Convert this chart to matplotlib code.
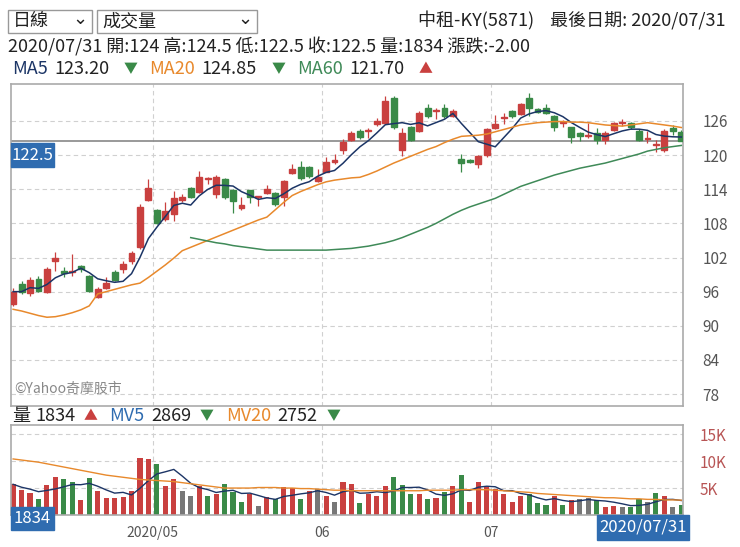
import matplotlib
matplotlib.use("Agg")
import matplotlib.pyplot as plt
from matplotlib.patches import Rectangle
import numpy as np
import pandas as pd

plt.rcParams['font.family'] = ['Noto Sans CJK TC', 'DejaVu Sans']

dates = [d for d in pd.bdate_range("2020-04-08", "2020-07-31")
         if d not in (pd.Timestamp("2020-05-01"), pd.Timestamp("2020-06-25"), pd.Timestamp("2020-06-26"))]

opens = [93.9,97.3,95.8,98.3,96.0,101.3,99.6,99.5,100.5,98.8,95.1,96.7,99.5,99.9,101.3,103.9,112.1,110.3,108.7,109.6,
         112.1,114.2,113.6,115.8,113.2,115.8,113.8,110.7,113.8,112.6,113.4,113.4,112.6,116.9,117.9,117.9,115.4,117.1,118.8,120.9,
         122.6,124.3,124.2,125.4,125.7,130.0,120.9,124.9,124.3,128.3,127.8,128.3,126.9,119.4,119.2,118.4,120.0,124.8,126.6,127.8,
         127.2,130.0,128.1,128.3,126.8,125.6,124.9,123.9,123.3,123.9,122.7,124.4,125.7,125.6,124.3,122.9,121.7,120.9,124.8,124.0]
closes = [96.0,96.0,98.1,96.2,100.0,101.9,99.3,99.5,99.9,96.1,96.5,97.6,98.1,100.8,102.8,110.8,114.2,108.1,110.2,112.5,
          112.7,112.6,116.2,115.8,116.2,112.6,112.0,111.3,112.6,112.6,114.0,111.4,115.4,117.5,116.0,116.3,116.2,118.8,119.2,122.3,
          123.9,123.1,124.2,126.0,129.5,124.9,123.9,122.7,127.4,126.8,127.8,126.8,127.8,118.6,118.8,119.8,124.6,125.5,126.6,126.8,
          129.0,128.3,127.6,127.4,124.9,125.6,123.1,123.3,123.3,122.7,123.9,125.6,125.7,124.9,122.7,122.9,121.9,124.3,124.3,122.5]
highs = [96.6,97.9,98.5,98.8,100.3,103.0,100.4,102.7,100.7,99.0,96.8,98.5,99.8,101.4,103.1,111.4,115.8,110.5,111.7,113.7,
         113.2,114.4,117.2,116.2,116.5,116.0,114.0,112.6,113.9,112.9,114.8,113.6,115.6,118.5,119.0,118.1,117.5,119.6,120.2,122.9,
         124.3,124.6,124.8,126.6,130.4,130.4,124.8,125.1,127.8,129.0,128.3,129.0,128.1,120.2,119.4,120.0,124.8,127.0,127.4,128.0,
         129.2,131.0,128.3,129.0,127.0,126.2,125.0,124.0,125.6,124.8,124.2,125.8,126.3,125.8,124.6,124.2,122.7,124.6,125.3,124.5]
lows = [93.5,95.6,95.2,96.0,95.8,99.7,98.5,98.8,99.4,95.9,94.9,96.5,97.8,99.3,100.9,103.5,112.0,107.9,108.4,108.5,
        111.7,112.4,113.4,114.9,112.5,112.3,109.8,110.4,111.5,111.0,113.2,111.1,111.0,116.6,115.7,116.0,115.2,117.0,118.5,120.2,
        122.4,122.9,123.0,125.2,125.5,124.6,119.9,122.5,124.1,126.6,126.3,126.6,126.7,117.0,118.6,117.7,119.7,124.6,125.4,126.6,
        127.0,126.9,127.4,127.2,124.2,124.9,122.2,122.4,123.0,122.0,122.0,124.2,125.2,124.6,122.5,122.2,120.5,120.6,123.5,122.5]

ma20 = [92.9,92.6,92.2,91.8,91.5,91.6,91.9,92.3,92.8,93.5,95.6,96.0,96.4,96.8,97.2,97.5,98.5,99.6,100.7,101.9,
        103.2,103.8,104.4,105.0,105.6,106.2,106.8,107.4,108.0,108.6,109.1,110.4,111.7,112.9,113.6,114.2,114.8,115.3,115.6,115.8,
        116.0,116.1,116.6,117.2,117.9,118.6,119.2,119.8,120.4,121.0,121.5,122.2,122.8,123.3,123.4,123.5,123.7,124.1,124.5,124.9,
        125.3,125.5,125.7,125.8,125.9,125.9,125.8,125.8,125.7,125.5,125.3,125.2,125.1,125.3,125.5,125.7,125.5,125.3,125.1,124.85]
ma60 = [np.nan]*21 + [105.5,105.2,104.9,104.6,104.4,104.1,103.9,103.7,103.5,103.3,103.3,103.3,103.3,103.3,103.3,103.3,103.3,103.4,103.5,
        103.6,103.8,104.0,104.3,104.6,105.0,105.5,106.1,106.7,107.3,108.0,108.8,109.6,110.3,110.9,111.4,111.9,112.4,113.1,113.8,
        114.5,115.0,115.5,116.0,116.5,116.9,117.3,117.7,118.0,118.3,118.6,119.0,119.4,119.8,120.2,120.7,121.0,121.3,121.5,121.7]

volume = [5.7,4.6,4.1,2.9,5.5,7.1,6.6,6.2,2.7,6.8,4.4,3.2,3.2,3.4,4.4,10.6,10.3,9.4,5.4,6.6,
          4.4,3.6,5.4,3.6,3.9,5.7,4.3,2.5,3.9,1.7,3.4,3.0,5.2,5.0,3.0,4.4,4.9,3.6,2.5,6.2,
          5.7,2.2,3.9,3.6,5.4,7.1,5.5,3.9,3.9,2.9,3.2,4.3,5.4,7.5,2.4,6.2,5.2,4.9,3.9,2.4,
          3.6,3.9,2.2,1.9,3.6,1.9,2.8,3.0,3.1,2.7,1.4,1.7,1.5,1.4,2.9,2.4,4.1,3.6,1.5,1.834]
vol_colors = list("rrrgrrggrgrrrrrrrgrrkkrgrgggrkrgrrgrkrkrrgrrrgggrgrgrgrrrrrrrgggrgrkkgrrkggkgrkg")
mv20 = [10.4,10.2,10.0,9.8,9.5,9.2,8.9,8.6,8.3,8.0,7.7,7.4,7.2,7.0,6.8,6.6,6.5,6.4,6.3,6.2,
        6.0,5.8,5.6,5.4,5.2,5.0,5.0,5.0,5.0,5.1,5.1,5.1,5.0,5.0,4.9,4.9,4.8,4.7,4.6,4.6,
        4.5,4.5,4.5,4.5,4.5,4.5,4.5,4.5,4.5,4.6,4.6,4.6,4.6,4.7,4.7,4.7,4.7,4.6,4.5,4.4,
        4.3,4.2,4.0,3.9,3.8,3.7,3.6,3.5,3.4,3.3,3.2,3.2,3.1,3.0,3.0,2.9,2.9,2.8,2.8,2.752]

price_ticks = [78, 84, 90, 96, 102, 108, 114, 120, 126]
vol_ticks = [5, 10, 15]
vol_tick_labels = ["5K", "10K", "15K"]
month_labels = ["2020/05", "06", "07"]

RED = "#c9403f"; GREEN = "#3a8a48"; GREY = "#777777"
cmap = {"r": RED, "g": GREEN, "k": GREY}
BLUE = "#2f6cb0"

W, H = 740, 547
fig = plt.figure(figsize=(W/100, H/100), dpi=100)

def ax_px(l, t, r, b):
    return fig.add_axes([l/W, 1-b/H, (r-l)/W, (b-t)/H])

def txt(x, y, s, color="#222", size=13, ha="left", **kw):
    fig.text(x/W, 1-y/H, s, color=color, fontsize=size, ha=ha, va="center", **kw)

n = len(closes)
x = np.arange(n)
month_pos = []
for m in (5, 6, 7):
    i = next(k for k, d in enumerate(dates) if d.month == m)
    month_pos.append(i - 0.5)

ax = ax_px(11, 84, 683, 406)
ax.set_xlim(-0.25, n - 0.8)
ax.set_ylim(75.9, 132.5)
for p in price_ticks:
    ax.axhline(p, color="#d0d0d0", lw=0.8, ls=(0, (4, 3)), zorder=0)
for mp in month_pos:
    ax.axvline(mp, color="#d0d0d0", lw=0.8, ls=(0, (4, 3)), zorder=0)
for i in range(n):
    c = RED if closes[i] >= opens[i] else GREEN
    ax.vlines(i, lows[i], highs[i], color=c, lw=0.9, zorder=2)
    lo, hi = sorted((opens[i], closes[i]))
    ax.add_patch(Rectangle((i - 0.35, lo), 0.7, max(hi - lo, 0.15), color=c, zorder=3))
ma5 = pd.Series(closes).rolling(5, min_periods=1).mean()
ax.plot(x, ma5, color="#1c3566", lw=1.1, zorder=4)
ax.plot(x, ma20, color="#e8892c", lw=1.1, zorder=4)
ax.plot(x, ma60, color="#3f8a58", lw=1.1, zorder=4)
ax.axhline(closes[-1], color="#888", lw=1.2, zorder=1)
ax.yaxis.tick_right()
ax.set_yticks(price_ticks)
ax.tick_params(axis="y", length=0, labelsize=11, colors="#555", pad=14)
ax.set_xticks([])
for s in ax.spines.values():
    s.set_color("#aaaaaa"); s.set_linewidth(1.2)
ax.text(0.005, 0.04, "©Yahoo奇摩股市", transform=ax.transAxes, fontsize=10, color="#888")

vax = ax_px(11, 425, 683, 515)
vax.set_xlim(-0.25, n - 0.8)
vax.set_ylim(0, 16.7)
for v in vol_ticks:
    vax.axhline(v, color="#d0d0d0", lw=0.8, ls=(0, (4, 3)), zorder=0)
for mp in month_pos:
    vax.axvline(mp, color="#d0d0d0", lw=0.8, ls=(0, (4, 3)), zorder=0)
vax.bar(x, volume, width=0.6, color=[cmap[c] for c in vol_colors], zorder=2)
mv5 = pd.Series(volume).rolling(5, min_periods=1).mean()
vax.plot(x, mv5, color="#1c3566", lw=1.0, zorder=3)
vax.plot(x, mv20, color="#e8892c", lw=1.0, zorder=3)
vax.yaxis.tick_right()
vax.set_yticks(vol_ticks)
vax.set_yticklabels(vol_tick_labels)
vax.tick_params(axis="y", length=0, labelsize=11, colors="#b85555", pad=12)
vax.set_xticks(month_pos)
vax.set_xticklabels(month_labels)
vax.tick_params(axis="x", length=0, labelsize=10, colors="#555", pad=8)
for s in vax.spines.values():
    s.set_color("#aaaaaa"); s.set_linewidth(1.2)

# header
for (l, r, lab) in [(8, 92, "日線"), (97, 257, "成交量")]:
    fig.patches.append(Rectangle((l/W, 1-33/H), (r-l)/W, 23/H, transform=fig.transFigure,
                                 fill=False, ec="#999", lw=1))
    txt(l + 5, 21, lab)
    txt(r - 12, 19, "⌄", ha="center")
txt(725, 21, "中租-KY(5871)    最後日期: 2020/07/31", ha="right")
txt(8, 47, "2020/07/31 開:124 高:124.5 低:122.5 收:122.5 量:1834 漲跌:-2.00")

def legend_row(y, items, x0):
    xx = x0
    for lab, lw_, col, val, tri, tcol in items:
        txt(xx, y, lab, color=col)
        xx += lw_ + 6
        txt(xx, y, val)
        xx += len(val) * 10.6 + 6
        txt(xx, y, tri, color=tcol, size=10)
        xx += 26

legend_row(69, [("MA5", 36, "#1c3566", "123.20", "▼", GREEN),
                ("MA20", 46, "#e8892c", "124.85", "▼", GREEN),
                ("MA60", 46, "#3f8a58", "121.70", "▲", RED)], 12)
legend_row(416, [("量", 17, "#222", "1834", "▲", RED),
                 ("MV5", 36, "#2f6cb0", "2869", "▼", GREEN),
                 ("MV20", 46, "#e8892c", "2752", "▼", GREEN)], 12)

def box(l, t, r, b, s):
    fig.patches.append(Rectangle((l/W, 1-b/H), (r-l)/W, (b-t)/H, transform=fig.transFigure,
                                 color=BLUE, zorder=10))
    fig.text((l+r)/2/W, 1-(t+b)/2/H, s, color="white", fontsize=12, ha="center", va="center", zorder=11)

box(11, 143, 54, 167, "122.5")
box(11, 507, 54, 530, "1834")
box(597, 515, 689, 540, "2020/07/31")

fig.savefig("out.png", dpi=100)
